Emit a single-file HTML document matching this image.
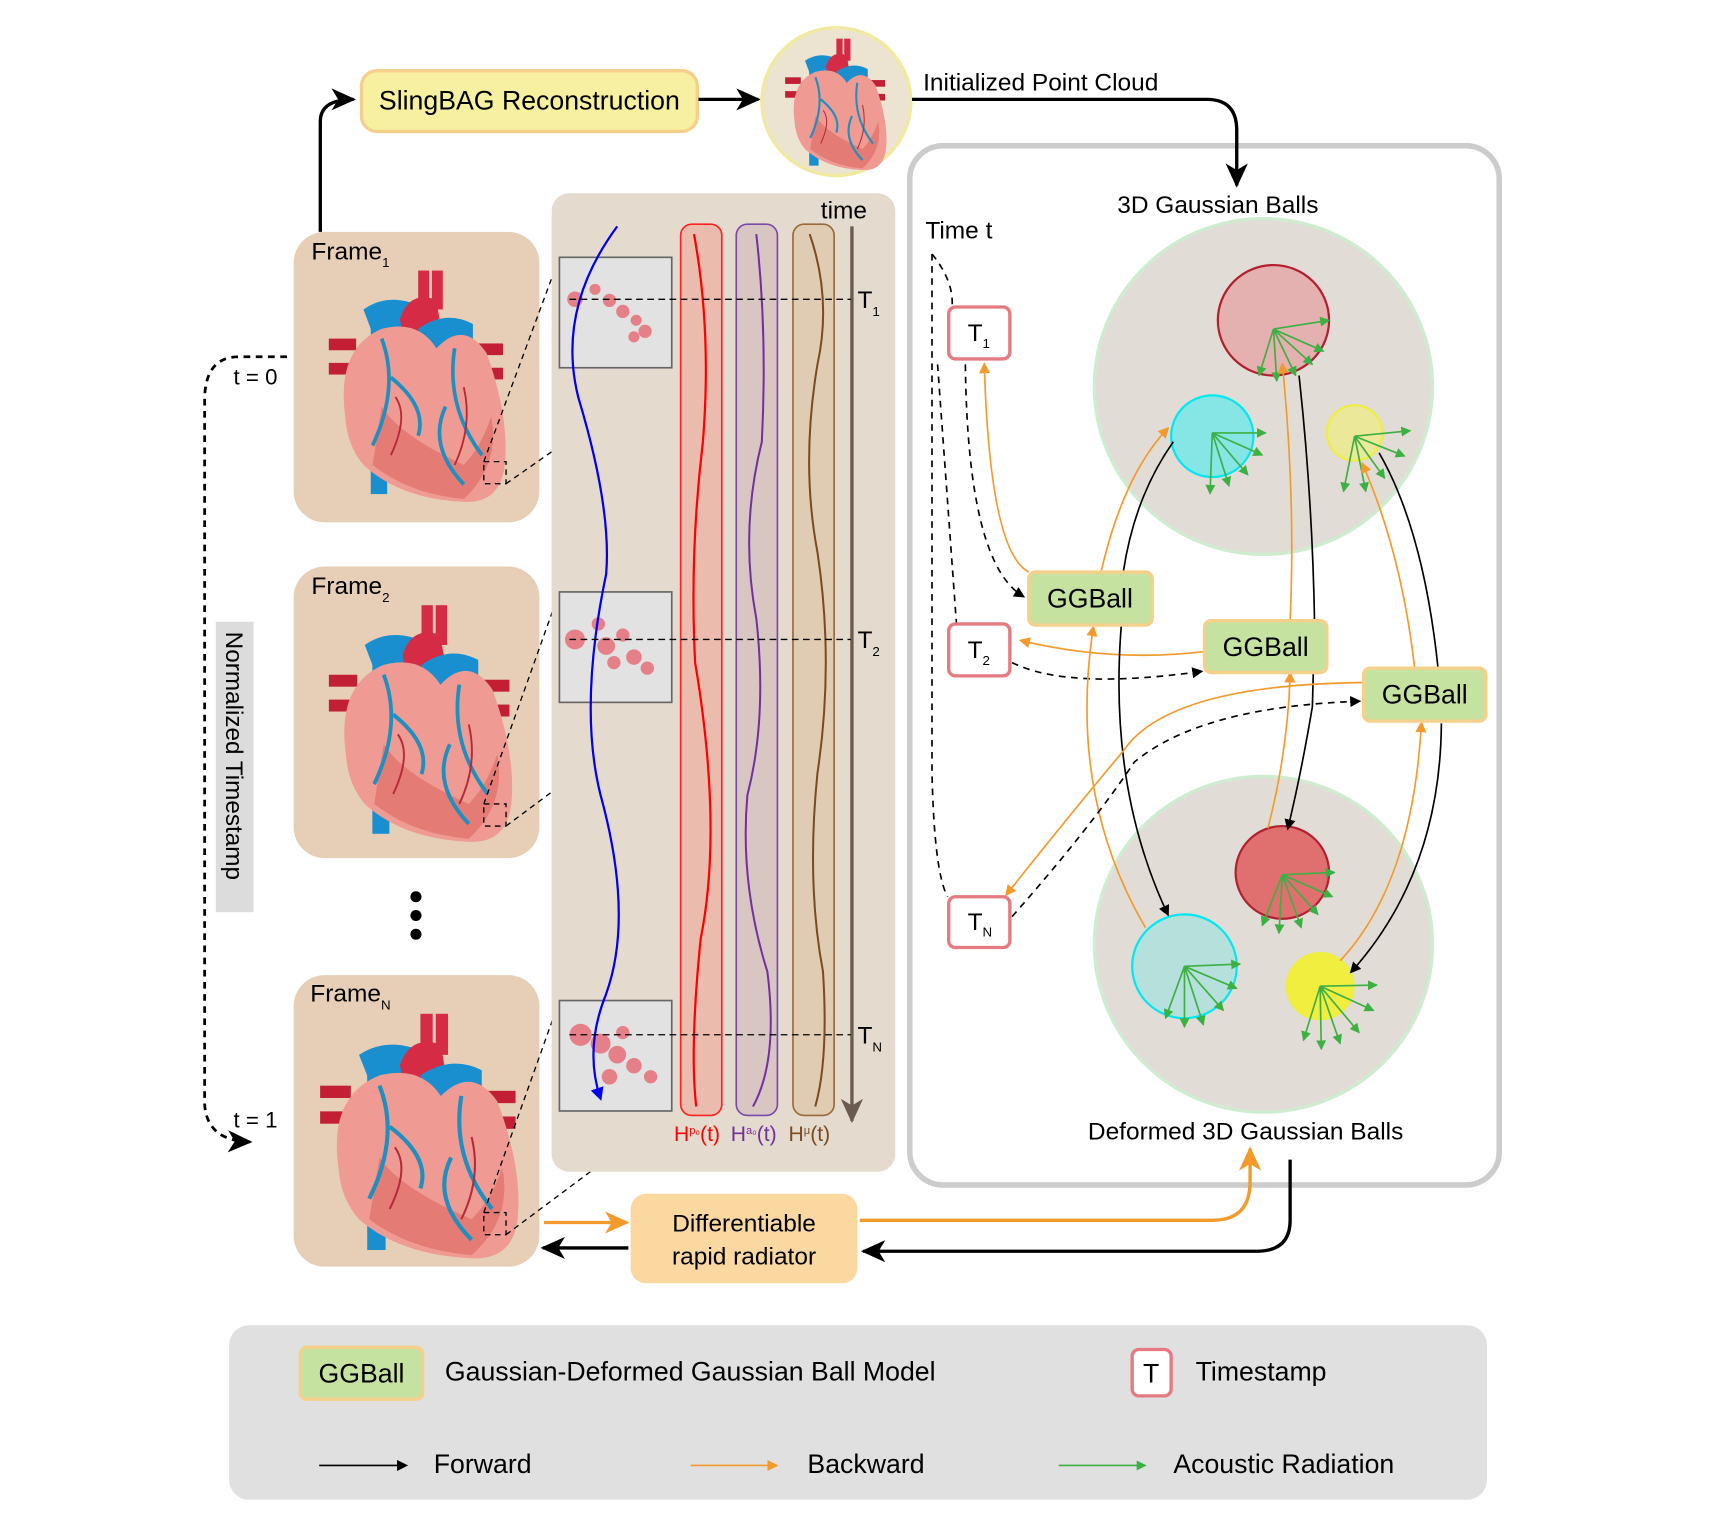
<!DOCTYPE html>
<html><head><meta charset="utf-8"><style>
html,body{margin:0;padding:0;background:#fff;}
svg{display:block;font-family:"Liberation Sans",Arial,sans-serif;}
</style></head><body>
<svg width="1735" height="1524" viewBox="0 0 1560 1380" preserveAspectRatio="none" xmlns="http://www.w3.org/2000/svg">
<defs>
<marker id="ab" markerWidth="10" markerHeight="10" refX="8" refY="5" orient="auto" markerUnits="userSpaceOnUse"><path d="M0,0 L10,5 L0,10 z" fill="#000"/></marker>
<marker id="abL" markerWidth="22" markerHeight="20" refX="20" refY="10" orient="auto" markerUnits="userSpaceOnUse"><path d="M0,0 L22,10 L0,20 L6,10 z" fill="#000"/></marker>
<marker id="aoL" markerWidth="22" markerHeight="20" refX="20" refY="10" orient="auto" markerUnits="userSpaceOnUse"><path d="M0,0 L22,10 L0,20 L6,10 z" fill="#f39a2c"/></marker>
<marker id="ao" markerWidth="10" markerHeight="10" refX="8" refY="5" orient="auto" markerUnits="userSpaceOnUse"><path d="M0,0 L10,5 L0,10 z" fill="#f39a2c"/></marker>
<marker id="ag" markerWidth="9" markerHeight="9" refX="8" refY="4.5" orient="auto" markerUnits="userSpaceOnUse"><path d="M0,0 L9,4.5 L0,9 z" fill="#3cb043"/></marker>
<marker id="abl" markerWidth="12" markerHeight="12" refX="10" refY="6" orient="auto" markerUnits="userSpaceOnUse"><path d="M0,0 L12,6 L0,12 z" fill="#00f"/></marker>
<marker id="abr" markerWidth="24" markerHeight="20" refX="20" refY="10" orient="auto" markerUnits="userSpaceOnUse"><path d="M0,0 L22,10 L0,20 L6,10 z" fill="#6a5a50"/></marker>
<g id="heart">
<rect x="48" y="50" width="18" height="180" fill="#1a8fd0"/>
<path d="M40,40 Q70,20 110,40 L120,80 L60,90 z" fill="#1a8fd0"/>
<path d="M80,50 Q90,20 120,30 L130,90 L90,100 z" fill="#d52b45"/>
<rect x="100" y="0" width="12" height="40" fill="#d52b45"/>
<rect x="115" y="0" width="12" height="40" fill="#d52b45"/>
<path d="M100,60 Q130,40 160,55 L160,90 L110,100 z" fill="#1a8fd0"/>
<rect x="2" y="70" width="30" height="12" fill="#c21f35"/>
<rect x="2" y="95" width="30" height="12" fill="#c21f35"/>
<rect x="165" y="75" width="28" height="12" fill="#c21f35"/>
<rect x="165" y="100" width="28" height="12" fill="#c21f35"/>
<path d="M20,150 Q10,80 60,60 Q100,50 120,80 Q150,50 175,85 Q200,150 195,200 Q190,240 150,238 Q80,235 40,200 Q22,180 20,150 z" fill="#ef9a92"/>
<path d="M60,140 Q80,170 150,200 Q170,180 180,150 Q190,200 150,235 Q90,230 50,200 z" fill="#e06e6a" opacity="0.7"/>
<path d="M60,70 Q80,120 50,180 M70,110 Q110,140 100,170 M140,80 Q130,140 170,190 M130,140 Q110,180 150,220" stroke="#1d8fc0" stroke-width="4" fill="none"/>
<path d="M75,130 Q90,150 70,190 M150,120 Q160,160 140,200" stroke="#b52a3a" stroke-width="2" fill="none"/>
</g>
</defs>

<!-- Right panel -->
<rect x="818" y="132" width="530" height="941" rx="30" fill="#fff" stroke="#cccccc" stroke-width="5"/>

<!-- Top flow -->
<path d="M288,210 L288,110 Q288,90 318,90" stroke="#000" stroke-width="3" fill="none" marker-end="url(#abL)"/>
<rect x="325" y="64" width="302" height="55" rx="14" fill="#f6f0a0" stroke="#f5d08a" stroke-width="3"/>
<text x="476" y="99" font-size="24" text-anchor="middle">SlingBAG Reconstruction</text>
<line x1="628" y1="90" x2="682" y2="90" stroke="#000" stroke-width="3" marker-end="url(#abL)"/>
<circle cx="752" cy="92" r="67" fill="#ece4d0" stroke="#f0eaa0" stroke-width="3"/>
<g transform="translate(705,35) scale(0.47,0.5)"><use href="#heart"/></g>
<text x="830" y="82" font-size="22">Initialized Point Cloud</text>
<path d="M820,90 L1085,90 Q1112,90 1112,118 L1112,168" stroke="#000" stroke-width="3" fill="none" marker-end="url(#abL)"/>

<text x="1095" y="193" font-size="22" text-anchor="middle">3D Gaussian Balls</text>
<text x="832" y="216" font-size="22">Time t</text>
<circle cx="1136" cy="350" r="152" fill="#e2dcd6" stroke="#d0ecd0" stroke-width="3"/>
<circle cx="1136" cy="855" r="152" fill="#e2dcd6" stroke="#d0ecd0" stroke-width="3"/>
<circle cx="1145" cy="290" r="50" fill="#e4b0b0" stroke="#b22030" stroke-width="2"/>
<circle cx="1090" cy="395" r="37" fill="#86e6e6" stroke="#00e8f0" stroke-width="2"/>
<circle cx="1218" cy="392" r="25" fill="#ece89a" stroke="#eeee40" stroke-width="2"/>
<circle cx="1153" cy="790" r="42" fill="#e07070" stroke="#b22030" stroke-width="2"/>
<circle cx="1065" cy="875" r="47" fill="#b6e0dc" stroke="#00e8f0" stroke-width="2"/>
<circle cx="1187" cy="893" r="30" fill="#f2ee40" stroke="#eeee40" stroke-width="2"/>
<g stroke="#3cb043" stroke-width="1.5" marker-end="url(#ag)">
<line x1="1145" y1="298" x2="1195" y2="290"/><line x1="1145" y1="298" x2="1190" y2="318"/><line x1="1145" y1="298" x2="1180" y2="330"/><line x1="1145" y1="298" x2="1165" y2="340"/><line x1="1145" y1="298" x2="1148" y2="345"/><line x1="1145" y1="298" x2="1132" y2="340"/>
<line x1="1090" y1="392" x2="1138" y2="392"/><line x1="1090" y1="392" x2="1135" y2="412"/><line x1="1090" y1="392" x2="1122" y2="430"/><line x1="1090" y1="392" x2="1105" y2="440"/><line x1="1090" y1="392" x2="1088" y2="447"/>
<line x1="1218" y1="395" x2="1268" y2="390"/><line x1="1218" y1="395" x2="1263" y2="413"/><line x1="1218" y1="395" x2="1245" y2="433"/><line x1="1218" y1="395" x2="1228" y2="445"/><line x1="1218" y1="395" x2="1208" y2="445"/>
<line x1="1153" y1="792" x2="1200" y2="790"/><line x1="1153" y1="792" x2="1198" y2="812"/><line x1="1153" y1="792" x2="1185" y2="828"/><line x1="1153" y1="792" x2="1170" y2="840"/><line x1="1153" y1="792" x2="1150" y2="845"/><line x1="1153" y1="792" x2="1135" y2="838"/>
<line x1="1065" y1="875" x2="1115" y2="873"/><line x1="1065" y1="875" x2="1112" y2="895"/><line x1="1065" y1="875" x2="1100" y2="915"/><line x1="1065" y1="875" x2="1082" y2="928"/><line x1="1065" y1="875" x2="1065" y2="930"/><line x1="1065" y1="875" x2="1048" y2="922"/>
<line x1="1187" y1="893" x2="1238" y2="892"/><line x1="1187" y1="893" x2="1235" y2="915"/><line x1="1187" y1="893" x2="1222" y2="935"/><line x1="1187" y1="893" x2="1205" y2="945"/><line x1="1187" y1="893" x2="1188" y2="950"/><line x1="1187" y1="893" x2="1172" y2="942"/>
</g>
<!-- connectors -->
<g fill="none" stroke-width="1.5">
<path d="M838,230 L838,700 Q840,790 852,812" stroke="#000" stroke-dasharray="6,5"/>
<path d="M838,230 Q858,255 856,278" stroke="#000" stroke-dasharray="6,5"/>
<path d="M843,330 L860,565" stroke="#000" stroke-dasharray="6,5"/>
<path d="M868,330 Q870,510 920,540" stroke="#000" stroke-dasharray="6,5" marker-end="url(#ab)"/>
<path d="M925,518 Q890,500 885,330" stroke="#f39a2c" marker-end="url(#ao)"/>
<path d="M990,518 Q1010,430 1050,388" stroke="#f39a2c" marker-end="url(#ao)"/>
<path d="M1010,518 Q1020,450 1055,400" stroke="#000"/>
<path d="M1083,590 Q1000,600 918,580" stroke="#f39a2c" marker-end="url(#ao)"/>
<path d="M910,600 Q960,625 1080,608" stroke="#000" stroke-dasharray="6,5" marker-end="url(#ab)"/>
<path d="M1160,562 Q1165,450 1153,330" stroke="#f39a2c" marker-end="url(#ao)"/>
<path d="M1168,340 Q1180,450 1182,565 L1180,640 Q1170,700 1158,750" stroke="#000" marker-end="url(#ab)"/>
<path d="M1012,530 Q990,700 1050,828" stroke="#000" marker-end="url(#ab)"/>
<path d="M1030,840 Q960,720 983,568" stroke="#f39a2c" marker-end="url(#ao)"/>
<path d="M1140,750 Q1158,680 1160,610" stroke="#f39a2c" marker-end="url(#ao)"/>
<path d="M1226,618 Q1050,620 1010,680 Q960,740 905,810" stroke="#f39a2c" marker-end="url(#ao)"/>
<path d="M910,830 Q980,750 1020,690 Q1080,640 1222,635" stroke="#000" stroke-dasharray="6,5" marker-end="url(#ab)"/>
<path d="M1272,605 Q1260,500 1225,420" stroke="#f39a2c" marker-end="url(#ao)"/>
<path d="M1293,605 Q1280,480 1240,410" stroke="#000"/>
<path d="M1205,870 Q1270,800 1278,655" stroke="#f39a2c" marker-end="url(#ao)"/>
<path d="M1296,655 Q1295,790 1215,880" stroke="#000" marker-end="url(#ab)"/>
</g>
<g font-size="24" text-anchor="middle">
<rect x="925" y="518" width="111" height="48" rx="6" fill="#c6e2a0" stroke="#f5d08a" stroke-width="3"/><text x="980" y="550">GGBall</text>
<rect x="1083" y="562" width="110" height="47" rx="6" fill="#c6e2a0" stroke="#f5d08a" stroke-width="3"/><text x="1138" y="594">GGBall</text>
<rect x="1226" y="605" width="110" height="48" rx="6" fill="#c6e2a0" stroke="#f5d08a" stroke-width="3"/><text x="1281" y="637">GGBall</text>
</g>
<g fill="#fff" stroke="#e57a80" stroke-width="3">
<rect x="853" y="278" width="55" height="47" rx="6"/><rect x="853" y="565" width="55" height="47" rx="6"/><rect x="853" y="812" width="55" height="46" rx="6"/>
</g>
<g font-size="22"><text x="870" y="309">T<tspan font-size="12" dy="6">1</tspan></text><text x="870" y="596">T<tspan font-size="12" dy="6">2</tspan></text><text x="870" y="842">T<tspan font-size="12" dy="6">N</tspan></text></g>
<text x="1120" y="1032" font-size="22" text-anchor="middle">Deformed 3D Gaussian Balls</text>

<!-- Left frames -->
<g fill="#e6cfb6"><rect x="264" y="210" width="221" height="263" rx="28"/><rect x="264" y="513" width="221" height="264" rx="28"/><rect x="264" y="883" width="221" height="264" rx="28"/></g>
<g font-size="22"><text x="280" y="235">Frame<tspan font-size="12" dy="7">1</tspan></text><text x="280" y="538">Frame<tspan font-size="12" dy="7">2</tspan></text><text x="279" y="907">Frame<tspan font-size="12" dy="7">N</tspan></text></g>
<g transform="translate(294,245) scale(0.82,0.88)"><use href="#heart"/></g>
<g transform="translate(294,548) scale(0.85,0.9)"><use href="#heart"/></g>
<g transform="translate(286,918) scale(0.92,0.93)"><use href="#heart"/></g>
<g fill="none" stroke="#000" stroke-width="1.2" stroke-dasharray="5,4">
<rect x="435" y="418" width="20" height="20"/><rect x="435" y="728" width="20" height="20"/><rect x="435" y="1098" width="20" height="20"/>
<path d="M435,418 L503,233 M455,438 L604,333 M435,728 L503,536 M455,748 L604,636 M435,1098 L503,906 M455,1118 L604,1006"/>
</g>
<rect x="194" y="563" width="34" height="263" fill="#dcdcdc"/>
<text transform="translate(203,572) rotate(90)" font-size="22">Normalized Timestamp</text>
<path d="M258,323 L215,323 Q185,323 184,360 L184,1000 Q186,1033 225,1034" stroke="#000" stroke-width="2.5" fill="none" stroke-dasharray="6,5" marker-end="url(#abL)"/>
<text x="210" y="348" font-size="20">t = 0</text>
<text x="210" y="1021" font-size="20">t = 1</text>
<g fill="#000"><circle cx="374" cy="812" r="5"/><circle cx="374" cy="829" r="5"/><circle cx="374" cy="846" r="5"/></g>

<!-- Middle panel -->
<rect x="496" y="175" width="309" height="886" rx="16" fill="#e4dace"/>
<g fill="#e2e2e2" stroke="#666" stroke-width="1.5"><rect x="503" y="233" width="101" height="100"/><rect x="503" y="536" width="101" height="100"/><rect x="503" y="906" width="101" height="100"/></g>
<g fill="#e83040" opacity="0.55">
<circle cx="517" cy="271" r="7"/><circle cx="535" cy="262" r="5"/><circle cx="548" cy="272" r="6"/><circle cx="560" cy="282" r="6"/><circle cx="572" cy="290" r="5"/><circle cx="580" cy="300" r="6"/><circle cx="570" cy="305" r="5"/>
<circle cx="517" cy="579" r="9"/><circle cx="538" cy="565" r="6"/><circle cx="545" cy="585" r="8"/><circle cx="560" cy="575" r="6"/><circle cx="570" cy="595" r="7"/><circle cx="582" cy="605" r="6"/><circle cx="552" cy="600" r="6"/>
<circle cx="522" cy="937" r="10"/><circle cx="540" cy="945" r="9"/><circle cx="555" cy="955" r="8"/><circle cx="570" cy="965" r="7"/><circle cx="585" cy="975" r="6"/><circle cx="560" cy="935" r="6"/><circle cx="548" cy="975" r="7"/>
</g>
<path d="M555,205 Q500,280 520,360 Q550,460 545,520 Q520,640 540,720 Q570,830 545,900 Q525,950 540,995" stroke="#0000ee" stroke-width="2" fill="none" marker-end="url(#abl)"/>
<rect x="612" y="203" width="37" height="807" rx="10" fill="#ebbcae" stroke="#f22" stroke-width="1.5"/>
<rect x="662" y="203" width="37" height="807" rx="10" fill="#d8c6c2" stroke="#7a4aa8" stroke-width="1.5"/>
<rect x="713" y="203" width="37" height="807" rx="10" fill="#e0ccb2" stroke="#9a6a3a" stroke-width="1.5"/>
<path d="M624,212 Q640,300 632,400 Q620,500 625,600 Q650,750 630,850 Q620,950 626,1002" stroke="#f00" stroke-width="2" fill="none"/>
<path d="M680,212 Q690,300 685,400 Q665,480 680,560 Q690,650 672,720 Q665,800 690,880 Q700,960 677,1002" stroke="#7030a0" stroke-width="1.8" fill="none"/>
<path d="M728,212 Q748,270 735,330 Q720,420 735,500 Q750,600 735,700 Q725,800 740,880 Q745,960 733,1002" stroke="#7a4a20" stroke-width="1.8" fill="none"/>
<line x1="766" y1="205" x2="766" y2="1015" stroke="#6a5a50" stroke-width="3" marker-end="url(#abr)"/>
<text x="738" y="198" font-size="22">time</text>
<g stroke="#000" stroke-width="1.2" stroke-dasharray="6,4"><line x1="512" y1="271" x2="765" y2="271"/><line x1="512" y1="579" x2="765" y2="579"/><line x1="512" y1="937" x2="765" y2="937"/></g>
<g font-size="22"><text x="771" y="279">T<tspan font-size="12" dy="7">1</tspan></text><text x="771" y="587">T<tspan font-size="12" dy="7">2</tspan></text><text x="771" y="945">T<tspan font-size="12" dy="7">N</tspan></text></g>
<g font-size="19"><text x="606" y="1033" fill="#f00">H<tspan font-size="10" dy="-6">p₀</tspan><tspan dy="6">(t)</tspan></text><text x="657" y="1033" fill="#7030a0">H<tspan font-size="10" dy="-6">a₀</tspan><tspan dy="6">(t)</tspan></text><text x="709" y="1033" fill="#7a4a20">H<tspan font-size="10" dy="-6">μ</tspan><tspan dy="6">(t)</tspan></text></g>

<!-- Radiator -->
<rect x="567" y="1081" width="204" height="81" rx="14" fill="#fbd8a0"/>
<text x="669" y="1115" font-size="22" text-anchor="middle">Differentiable</text>
<text x="669" y="1145" font-size="22" text-anchor="middle">rapid radiator</text>
<line x1="489" y1="1107" x2="564" y2="1107" stroke="#f39a2c" stroke-width="3" marker-end="url(#aoL)"/>
<path d="M773,1105 L1090,1105 Q1124,1105 1124,1070 L1124,1040" stroke="#f39a2c" stroke-width="3" fill="none" marker-end="url(#aoL)"/>
<path d="M1160,1050 L1160,1105 Q1160,1133 1130,1133 L776,1133" stroke="#000" stroke-width="3" fill="none" marker-end="url(#abL)"/>
<line x1="565" y1="1130" x2="488" y2="1130" stroke="#000" stroke-width="3" marker-end="url(#abL)"/>

<!-- Legend -->
<rect x="206" y="1200" width="1131" height="158" rx="18" fill="#e0e0e0"/>
<rect x="270" y="1220" width="110" height="47" rx="6" fill="#c6e2a0" stroke="#f5d08a" stroke-width="3"/>
<text x="325" y="1252" font-size="24" text-anchor="middle">GGBall</text>
<text x="400" y="1250" font-size="24">Gaussian-Deformed Gaussian Ball Model</text>
<rect x="1018" y="1222" width="35" height="42" rx="6" fill="#fff" stroke="#e57a80" stroke-width="3"/>
<text x="1035" y="1252" font-size="24" text-anchor="middle">T</text>
<text x="1075" y="1250" font-size="24">Timestamp</text>
<line x1="287" y1="1327" x2="365" y2="1327" stroke="#000" stroke-width="1.5" marker-end="url(#ab)"/>
<text x="390" y="1334" font-size="24">Forward</text>
<line x1="621" y1="1327" x2="698" y2="1327" stroke="#f39a2c" stroke-width="1.5" marker-end="url(#ao)"/>
<text x="726" y="1334" font-size="24">Backward</text>
<line x1="952" y1="1327" x2="1030" y2="1327" stroke="#3cb043" stroke-width="1.5" marker-end="url(#ag)"/>
<text x="1055" y="1334" font-size="24">Acoustic Radiation</text>
</svg>
</body></html>
